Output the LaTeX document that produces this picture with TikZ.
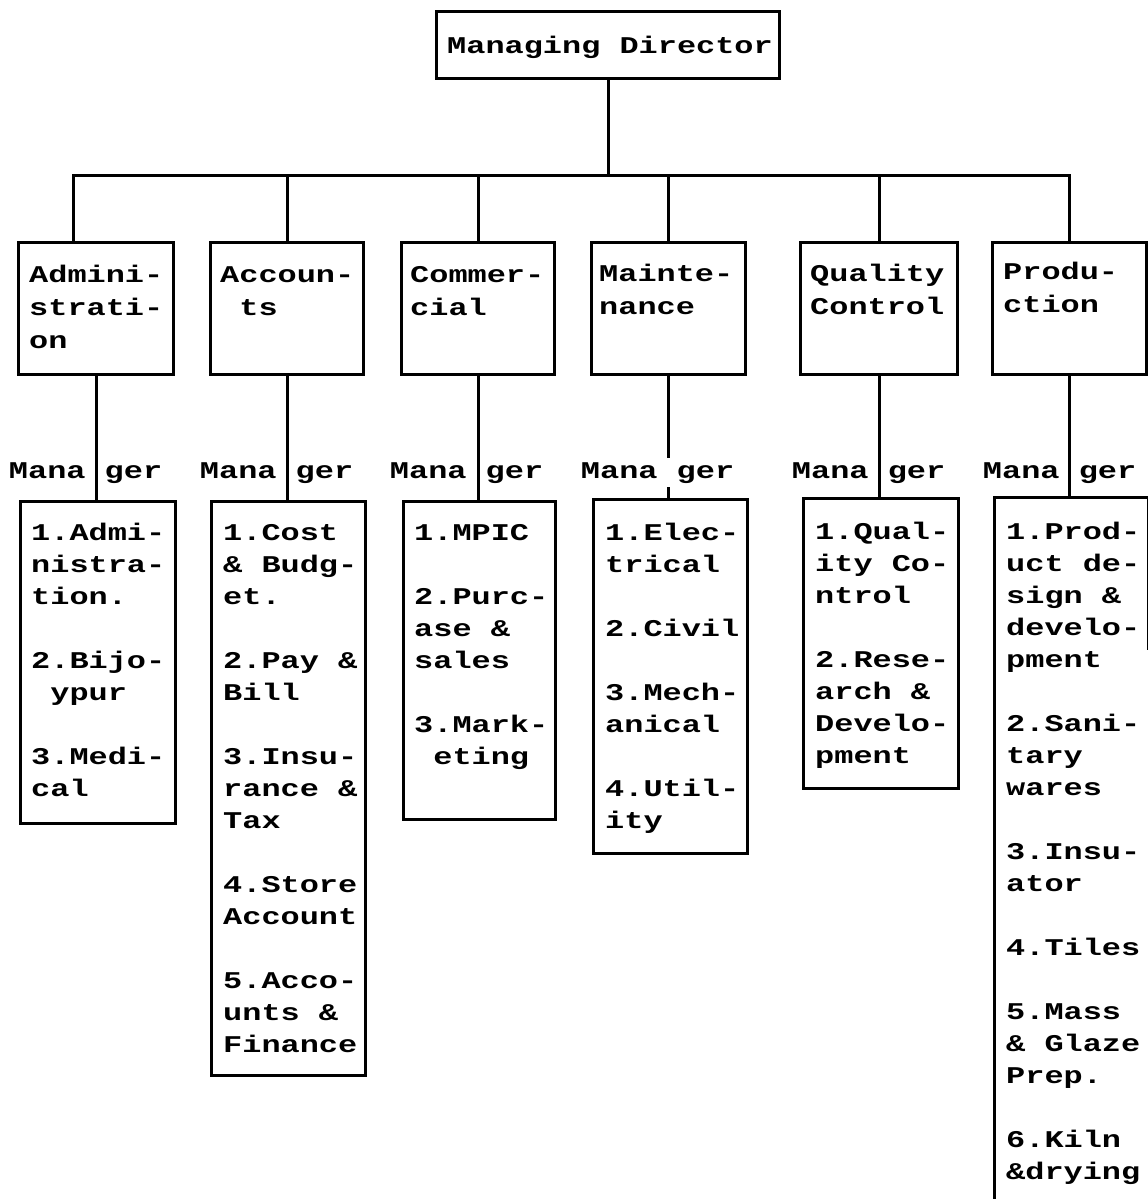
\documentclass[tikz,border=0pt]{standalone}
\usepackage{fontspec}
\newfontfamily\chartfont[FakeStretch=1.33]{Liberation Mono}
\newcommand\chartstrut{\rule{0pt}{24pt}}
\tikzset{
  x=1pt, y=-1pt,
  box/.style={draw, line width=3pt, inner sep=0pt, anchor=north west},
  conn/.style={line width=3pt},
  txt/.style={font=\chartfont\bfseries\fontsize{24}{32}\selectfont, inner sep=0pt, align=left, anchor=north west},
  txtup/.style={txt, font=\chartfont\bfseries\fontsize{24}{33}\selectfont},
  lbl/.style={font=\chartfont\bfseries\fontsize{24}{32}\selectfont, inner sep=4pt, anchor=base},
}
\begin{document}
\begin{tikzpicture}
\fill[white] (0,0) rectangle (1148,1199);
\useasboundingbox (0,0) rectangle (1148,1199);

% top of the chart
\node[box, minimum width=343pt, minimum height=67pt] (md) at (435,10) {};
\node[font=\chartfont\bfseries\fontsize{24}{32}\selectfont, inner sep=0pt, anchor=base west] (mdt) at (447,54) {Managing Director};

% departments
\node[box, minimum width=155pt, minimum height=132pt] (admin) at (17,241) {};
\node[box, minimum width=153pt, minimum height=132pt] (acc)   at (209,241) {};
\node[box, minimum width=153pt, minimum height=132pt] (comm)  at (400,241) {};
\node[box, minimum width=154pt, minimum height=132pt] (maint) at (590,241) {};
\node[box, minimum width=157pt, minimum height=132pt] (qc)    at (799,241) {};
\node[box, minimum width=154pt, minimum height=132pt] (prod)  at (991,241) {};

\node[txtup] (admint) at (29,258)   {\chartstrut Admini-\\strati-\\on};
\node[txtup] (acct)   at (220,258)  {\chartstrut Accoun-\\\phantom{t}ts};
\node[txtup] (commt)  at (410,258)  {\chartstrut Commer-\\cial};
\node[txtup] (maintt) at (599,257)  {\chartstrut Mainte-\\nance};
\node[txtup] (qct)    at (810,257)  {\chartstrut Quality\\Control};
\node[txtup] (prodt)  at (1003,255) {\chartstrut Produ-\\ction};

% sections under each department
\node[box, minimum width=155pt, minimum height=322pt] (adminsub) at (19,500) {};
\node[box, minimum width=154pt, minimum height=574pt] (accsub)   at (210,500) {};
\node[box, minimum width=152pt, minimum height=318pt] (commsub)  at (402,500) {};
\node[box, minimum width=154pt, minimum height=354pt] (maintsub) at (592,498) {};
\node[box, minimum width=155pt, minimum height=290pt] (qcsub)    at (802,497) {};
\node[box, draw=none, minimum width=151pt, minimum height=705pt] (prodsub) at (994,497) {};
\draw[conn] (prodsub.south west) -- (prodsub.north west) -- (prodsub.north east) -- ([yshift=-153pt]prodsub.north east);

\node[txt] (adminst) at (31,516) {\chartstrut 1.Admi-\\nistra-\\tion.\\[32pt]2.Bijo-\\\phantom{y}ypur\\[32pt]3.Medi-\\cal};
\node[txt] (accst) at (223,516) {\chartstrut 1.Cost\\\& Budg-\\et.\\[32pt]2.Pay \&\\Bill\\[32pt]3.Insu-\\rance \&\\Tax\\[32pt]4.Store\\Account\\[32pt]5.Acco-\\unts \&\\Finance};
\node[txt] (commst) at (414,516) {\chartstrut 1.MPIC\\[32pt]2.Purc-\\ase \&\\sales\\[32pt]3.Mark-\\\phantom{e}eting};
\node[txt] (maintst) at (605,516) {\chartstrut 1.Elec-\\trical\\[32pt]2.Civil\\[32pt]3.Mech-\\anical\\[32pt]4.Util-\\ity};
\node[txt] (qcst) at (815,515) {\chartstrut 1.Qual-\\ity Co-\\ntrol\\[32pt]2.Rese-\\arch \&\\Develo-\\pment};
\node[txt] (prodst) at (1006,515) {\chartstrut 1.Prod-\\uct de-\\sign \&\\develo-\\pment\\[32pt]2.Sani-\\tary\\wares\\[32pt]3.Insu-\\ator\\[32pt]4.Tiles\\[32pt]5.Mass\\\& Glaze\\Prep.\\[32pt]6.Kiln\\\&drying};

% manager labels on the links
\node[lbl] (mgra) at (85.6,478)   {Mana ger};
\node[lbl] (mgrb) at (276.6,478)  {Mana ger};
\node[lbl] (mgrc) at (466.6,478)  {Mana ger};
\node[lbl] (mgrd) at (657.6,478)  {Mana ger};
\node[lbl] (mgre) at (868.6,478)  {Mana ger};
\node[lbl] (mgrf) at (1059.6,478) {Mana ger};

% connectors from the top
\coordinate (busl) at (73,175);
\draw[conn] (md.south) -- (md.south |- busl);
\draw[conn, line cap=rect] (busl) -- (busl -| prod.north);
\draw[conn] (busl) -- (busl |- admin.north);
\foreach \n in {acc,comm,maint,qc,prod}
  \draw[conn] (\n.north |- busl) -- (\n.north);

% connectors down to the sections
\foreach \n in {admin,acc,comm,qc,prod}
  \draw[conn] (\n.south) -- (\n.south |- \n sub.north);
\draw[conn] (maint.south) -- (maint.south |- mgrd.north);
\draw[conn] (maint.south |- mgrd.south) -- (maint.south |- maintsub.north);
\end{tikzpicture}
\end{document}
